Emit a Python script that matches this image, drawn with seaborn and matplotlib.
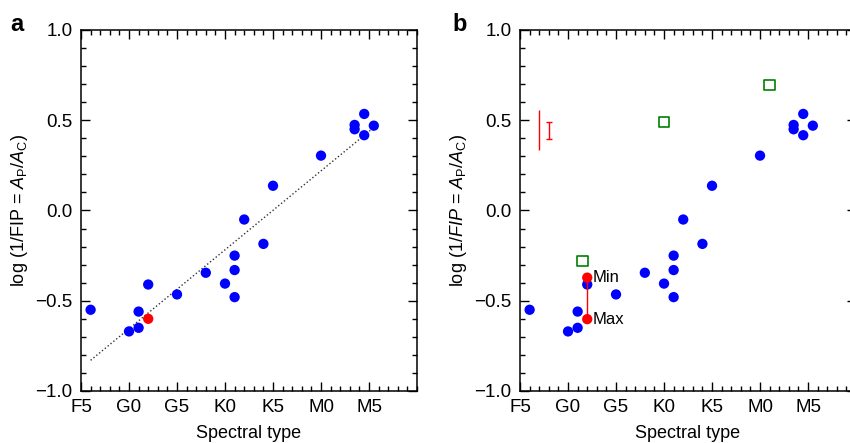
# FIP bias vs spectral type, two panels (a: with fit, b: with min/max and comparison stars)

import matplotlib
matplotlib.use('Agg')
import matplotlib.pyplot as plt
from matplotlib.ticker import MultipleLocator
import numpy as np
import pandas as pd
import seaborn as sns

# spectral type coded as number: F5=0, G0=5, G5=10, K0=15, K5=20, M0=25, M5=30
tick_pos = [0, 5, 10, 15, 20, 25, 30]
tick_labels = ['F5', 'G0', 'G5', 'K0', 'K5', 'M0', 'M5']

# blue stars
star_type = [1, 5, 6, 6, 7, 10, 13, 15, 16, 16, 16, 17, 19, 20, 25, 28.5, 28.5, 29.5, 29.5, 30.5]
star_fip = [-0.55, -0.67, -0.65, -0.56, -0.41, -0.465, -0.345, -0.405, -0.25, -0.33, -0.48,
            -0.05, -0.185, 0.137, 0.304, 0.474, 0.45, 0.535, 0.417, 0.47]

# red star (panel a) and its min/max (panel b)
red_type = [7]
red_fip = [-0.60]
minmax_type = [7, 7]
minmax_fip = [-0.372, -0.602]
minmax_label = ['Min', 'Max']

# linear fit (panel a)
fit_type = [1, 30.5]
fit_fip = [-0.83, 0.46]

# green open squares (panel b)
sq_type = [6.5, 15, 26]
sq_fip = [-0.28, 0.489, 0.694]

# typical error bars (panel b)
err_type = [2, 3]
err_fip = [0.445, 0.443]
err_size = [0.112, 0.048]

stars = pd.DataFrame({'type': star_type, 'fip': star_fip})

sns.set_style('ticks')
plt.rcParams['font.family'] = ['Liberation Sans', 'DejaVu Sans']
plt.rcParams['mathtext.fontset'] = 'custom'
plt.rcParams['mathtext.rm'] = 'Liberation Sans'
plt.rcParams['mathtext.it'] = 'Liberation Sans:italic'
plt.rcParams['axes.linewidth'] = 1.1
plt.rcParams['axes.edgecolor'] = 'black'
plt.rcParams['text.color'] = 'black'
plt.rcParams['axes.labelcolor'] = 'black'

fig = plt.figure(figsize=(8.5, 4.43), dpi=100)
ax_a = fig.add_axes([0.0953, 0.1174, 0.3953, 0.8149])
ax_b = fig.add_axes([0.6118, 0.1174, 0.3953, 0.8149])


def style_axes(ax):
    ax.set_xlim(0, 35)
    ax.set_ylim(-1, 1)
    ax.set_xticks(tick_pos)
    ax.set_xticklabels(tick_labels)
    ax.set_yticks([-1.0, -0.5, 0.0, 0.5, 1.0])
    ax.set_yticklabels(['\u22121.0', '\u22120.5', '0.0', '0.5', '1.0'])
    ax.xaxis.set_minor_locator(MultipleLocator(1))
    ax.yaxis.set_minor_locator(MultipleLocator(0.1))
    ax.tick_params(which='both', direction='in', top=True, right=True,
                   labelsize=13.5, width=1.0, color='black', labelcolor='black')
    ax.tick_params(which='major', length=6.5, pad=6)
    ax.tick_params(which='minor', length=3.5)
    ax.set_xlabel('Spectral type', fontsize=13, labelpad=6)


# panel a
sns.scatterplot(data=stars, x='type', y='fip', ax=ax_a, color='#0000ff',
                s=55, edgecolor='none', zorder=3)
sns.scatterplot(x=red_type, y=red_fip, ax=ax_a, color='#ff0000',
                s=55, edgecolor='none', zorder=4)
ax_a.plot(fit_type, fit_fip, linestyle=':', color='#333333', linewidth=1.0, zorder=2)
style_axes(ax_a)
ax_a.set_ylabel(r'log (1/FIP = $\mathit{A}_\mathrm{P}/\mathit{A}_\mathrm{C}$)', fontsize=13, labelpad=4)
fig.text(0.012, 0.945, 'a', fontsize=17, fontweight='bold', va='center')

# panel b
sns.scatterplot(data=stars, x='type', y='fip', ax=ax_b, color='#0000ff',
                s=55, edgecolor='none', zorder=3)
ax_b.plot(minmax_type, minmax_fip, color='#ff0000', linewidth=1.0, zorder=4)
sns.scatterplot(x=minmax_type, y=minmax_fip, ax=ax_b, color='#ff0000',
                s=55, edgecolor='none', zorder=5)
for xv, yv, lab in zip(minmax_type, minmax_fip, minmax_label):
    ax_b.text(xv + 0.6, yv, lab, fontsize=12, va='center', ha='left')
sns.scatterplot(x=sq_type, y=sq_fip, ax=ax_b, marker='s', s=55,
                facecolor='none', edgecolor='#008000', linewidth=1.2, zorder=3)
ax_b.errorbar(err_type[0], err_fip[0], yerr=err_size[0], color='#ff0000',
              linewidth=1.0, capsize=0)
ax_b.errorbar(err_type[1], err_fip[1], yerr=err_size[1], color='#ff0000',
              linewidth=1.0, capsize=2.5, capthick=1.0)
style_axes(ax_b)
ax_b.set_ylabel(r'log (1/$\mathit{FIP}$ = $\mathit{A}_\mathrm{P}/\mathit{A}_\mathrm{C}$)', fontsize=13, labelpad=4)
fig.text(0.532, 0.945, 'b', fontsize=17, fontweight='bold', va='center')

fig.savefig('out.png', dpi=100)
